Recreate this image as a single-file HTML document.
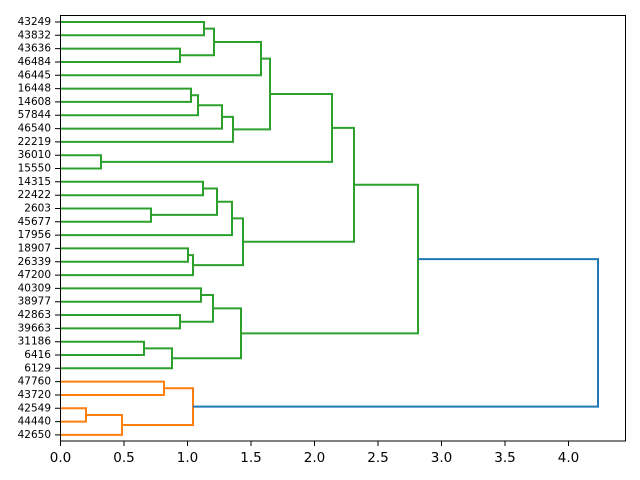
<!DOCTYPE html>
<html><head><style>body{margin:0;background:#fff}svg{display:block}</style></head><body>
<svg width="640" height="480" xmlns="http://www.w3.org/2000/svg" font-family="DejaVu Sans, Liberation Sans, sans-serif">
<rect width="640" height="480" fill="#fff"/>
<g fill="none" stroke-width="2">
<g stroke="#2ca02c">
<path d="M60 22H204V35.3H60"/>
<path d="M60 48.6H180V62H60"/>
<path d="M204 28.65H214V55.3H180"/>
<path d="M214 42H261V75.3H60"/>
<path d="M60 88.6H191V101.9H60"/>
<path d="M191 95.25H198V115.2H60"/>
<path d="M198 105.2H222V128.6H60"/>
<path d="M222 116.9H233V141.9H60"/>
<path d="M261 58.65H270V129.4H233"/>
<path d="M60 155.2H101V168.5H60"/>
<path d="M270 94H332V161.85H101"/>
<path d="M60 181.8H203V195.2H60"/>
<path d="M60 208.5H151V221.8H60"/>
<path d="M203 188.5H217V214.85H151"/>
<path d="M217 201.7H232V235.1H60"/>
<path d="M60 248.4H188V261.8H60"/>
<path d="M188 255.1H193V275.1H60"/>
<path d="M232 218.4H243V265.1H193"/>
<path d="M332 127.9H354V241.75H243"/>
<path d="M60 288.4H201V301.7H60"/>
<path d="M60 315H180V328.4H60"/>
<path d="M201 295.05H213V321.7H180"/>
<path d="M60 341.7H144V355H60"/>
<path d="M144 348.35H172V368.3H60"/>
<path d="M213 308.4H241V358.3H172"/>
<path d="M354 184.8H418V333.35H241"/>
</g>
<g stroke="#ff7f0e">
<path d="M60 381.6H164V395H60"/>
<path d="M60 408.3H86V421.6H60"/>
<path d="M86 415H122V434.9H60"/>
<path d="M164 388.3H193V425H122"/>
</g>
<path stroke="#1f77b4" d="M418 259.1H598V406.65H193"/>
</g>
<rect x="60.5" y="15.5" width="565" height="425.5" fill="none" stroke="#000" stroke-width="1"/>
<g stroke="#000" stroke-width="1">
<path d="M60.5 441v5M124 441v5M187.5 441v5M251 441v5M314.5 441v5M378 441v5M441.5 441v5M505 441v5M568.5 441v5"/>
<path d="M60 22h-5M60 35.3h-5M60 48.6h-5M60 62h-5M60 75.3h-5M60 88.6h-5M60 101.9h-5M60 115.2h-5M60 128.6h-5M60 141.9h-5M60 155.2h-5M60 168.5h-5M60 181.8h-5M60 195.2h-5M60 208.5h-5M60 221.8h-5M60 235.1h-5M60 248.4h-5M60 261.8h-5M60 275.1h-5M60 288.4h-5M60 301.7h-5M60 315h-5M60 328.4h-5M60 341.7h-5M60 355h-5M60 368.3h-5M60 381.6h-5M60 395h-5M60 408.3h-5M60 421.6h-5M60 434.9h-5"/>
</g>
<g font-size="13.5" text-anchor="middle" fill="#000">
<text x="60.5" y="462">0.0</text><text x="124" y="462">0.5</text><text x="187.5" y="462">1.0</text><text x="251" y="462">1.5</text><text x="314.5" y="462">2.0</text><text x="378" y="462">2.5</text><text x="441.5" y="462">3.0</text><text x="505" y="462">3.5</text><text x="568.5" y="462">4.0</text>
</g>
<g font-size="10.5" text-anchor="end" fill="#000" dominant-baseline="central">
<text x="51" y="22">43249</text><text x="51" y="35.3">43832</text><text x="51" y="48.6">43636</text><text x="51" y="62">46484</text><text x="51" y="75.3">46445</text><text x="51" y="88.6">16448</text><text x="51" y="101.9">14608</text><text x="51" y="115.2">57844</text><text x="51" y="128.6">46540</text><text x="51" y="141.9">22219</text><text x="51" y="155.2">36010</text><text x="51" y="168.5">15550</text><text x="51" y="181.8">14315</text><text x="51" y="195.2">22422</text><text x="51" y="208.5">2603</text><text x="51" y="221.8">45677</text><text x="51" y="235.1">17956</text><text x="51" y="248.4">18907</text><text x="51" y="261.8">26339</text><text x="51" y="275.1">47200</text><text x="51" y="288.4">40309</text><text x="51" y="301.7">38977</text><text x="51" y="315">42863</text><text x="51" y="328.4">39663</text><text x="51" y="341.7">31186</text><text x="51" y="355">6416</text><text x="51" y="368.3">6129</text><text x="51" y="381.6">47760</text><text x="51" y="395">43720</text><text x="51" y="408.3">42549</text><text x="51" y="421.6">44440</text><text x="51" y="434.9">42650</text>
</g>
</svg>
</body></html>
